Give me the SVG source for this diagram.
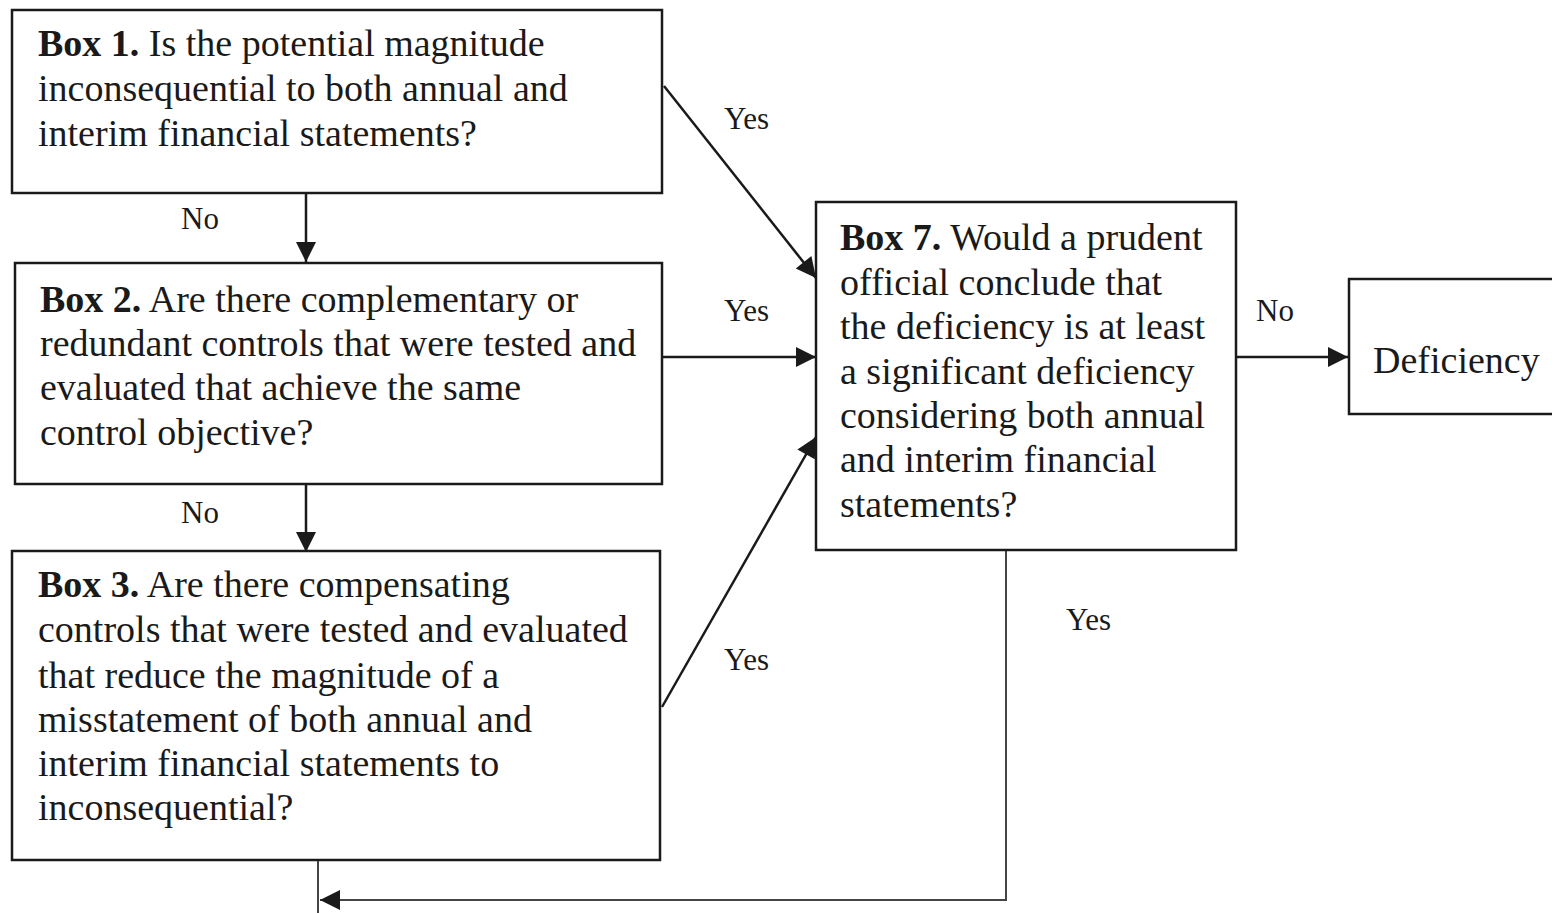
<svg xmlns="http://www.w3.org/2000/svg" width="1552" height="913" viewBox="0 0 1552 913">
  <style>
    .box { fill: #ffffff; stroke: #1a1a1a; stroke-width: 2.5; }
    .txt { font-family: "Liberation Serif", "Times New Roman", serif; font-size: 38px; fill: #1a1a1a; }
    .lbl { font-family: "Liberation Serif", "Times New Roman", serif; font-size: 31px; fill: #1a1a1a; }
    .b { font-weight: bold; }
    .conn { fill: none; stroke: #1a1a1a; stroke-width: 2.5; }
    .thin { fill: none; stroke: #444444; stroke-width: 2; }
  </style>
  <defs>
    <marker id="arrow" viewBox="0 0 10 10" refX="10" refY="5" markerWidth="22" markerHeight="20" markerUnits="userSpaceOnUse" orient="auto">
      <path d="M0,0 L10,5 L0,10 z" fill="#1a1a1a"/>
    </marker>
  </defs>
  <rect width="1552" height="913" fill="#ffffff"/>

  <!-- connectors -->
  <g id="connectors">
    <line class="conn" x1="306" y1="193" x2="306" y2="262" marker-end="url(#arrow)"/>
    <line class="conn" x1="306" y1="484" x2="306" y2="552" marker-end="url(#arrow)"/>
    <line class="conn" x1="664" y1="86" x2="816" y2="278" marker-end="url(#arrow)"/>
    <line class="conn" x1="662" y1="357" x2="816" y2="357" marker-end="url(#arrow)"/>
    <line class="conn" x1="662" y1="707" x2="816" y2="437" marker-end="url(#arrow)"/>
    <line class="conn" x1="1236" y1="357" x2="1348" y2="357" marker-end="url(#arrow)"/>
    <polyline class="thin" points="1006,550 1006,900 320,900" marker-end="url(#arrow)"/>
    <line class="thin" x1="318" y1="860" x2="318" y2="913"/>
    <text class="lbl" x="181" y="229">No</text>
    <text class="lbl" x="181" y="523">No</text>
    <text class="lbl" x="724" y="129">Yes</text>
    <text class="lbl" x="724" y="321">Yes</text>
    <text class="lbl" x="724" y="670">Yes</text>
    <text class="lbl" x="1256" y="321">No</text>
    <text class="lbl" x="1066" y="630">Yes</text>
  </g>

  <g id="box1">
    <rect class="box" x="12" y="10" width="650" height="183"/>
    <text class="txt" x="38" y="56"><tspan class="b">Box 1.</tspan> Is the potential magnitude</text>
    <text class="txt" x="38" y="101">inconsequential to both annual and</text>
    <text class="txt" x="38" y="146">interim financial statements?</text>
  </g>

  <g id="box2">
    <rect class="box" x="15" y="263" width="647" height="221"/>
    <text class="txt" x="40" y="312"><tspan class="b">Box 2.</tspan> Are there complementary or</text>
    <text class="txt" x="40" y="356">redundant controls that were tested and</text>
    <text class="txt" x="40" y="400">evaluated that achieve the same</text>
    <text class="txt" x="40" y="445">control objective?</text>
  </g>

  <g id="box3">
    <rect class="box" x="12" y="551" width="648" height="309"/>
    <text class="txt" x="38" y="597"><tspan class="b">Box 3.</tspan> Are there compensating</text>
    <text class="txt" x="38" y="642">controls that were tested and evaluated</text>
    <text class="txt" x="38" y="688">that reduce the magnitude of a</text>
    <text class="txt" x="38" y="732">misstatement of both annual and</text>
    <text class="txt" x="38" y="776">interim financial statements to</text>
    <text class="txt" x="38" y="820">inconsequential?</text>
  </g>

  <g id="box7">
    <rect class="box" x="816" y="202" width="420" height="348"/>
    <text class="txt" x="840" y="250"><tspan class="b">Box 7.</tspan> Would a prudent</text>
    <text class="txt" x="840" y="295">official conclude that</text>
    <text class="txt" x="840" y="339">the deficiency is at least</text>
    <text class="txt" x="840" y="384">a significant deficiency</text>
    <text class="txt" x="840" y="428">considering both annual</text>
    <text class="txt" x="840" y="472">and interim financial</text>
    <text class="txt" x="840" y="517">statements?</text>
  </g>

  <g id="deficiency">
    <rect class="box" x="1349" y="279" width="220" height="135"/>
    <text class="txt" x="1373" y="373">Deficiency</text>
  </g>
</svg>
